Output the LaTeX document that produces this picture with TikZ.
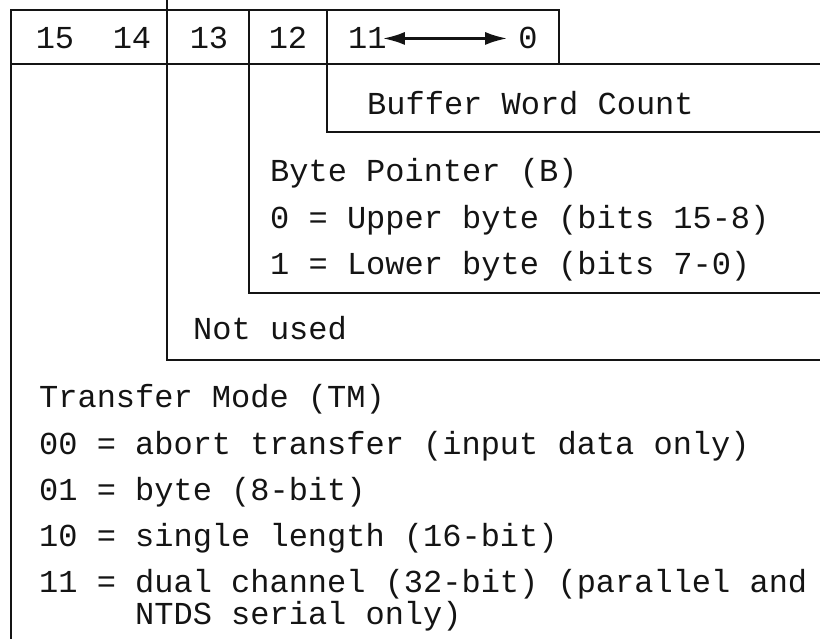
\documentclass[tikz,border=0pt]{standalone}
\usepackage{fontspec}
\setmonofont{Liberation Mono}
\usepackage{tikz}
\usetikzlibrary{arrows.meta}
\definecolor{ink}{HTML}{141414}
\newcommand{\regfont}{\ttfamily\fontsize{32}{38}\selectfont}
\tikzset{
    bitlabel/.style={
        anchor=base, inner sep=0pt, text=ink, font=\regfont
    },
    fieldtext/.style={
        anchor=base west, inner sep=0pt, text=ink, font=\regfont
    },
    regrule/.style={draw=ink, line width=2.2pt},
    bitspan/.style={{Latex[length=22pt,width=13pt]}-{Latex[length=22pt,width=13pt]}, draw=ink, line width=2.6pt},
}

\begin{document}
\begin{tikzpicture}[x=1pt, y=-1pt]
    \useasboundingbox (0,0) rectangle (820,639);
    % frame of the word
    \draw[regrule] (11,639) -- (11,10) -- (559,10) -- (559,64);
    \draw[regrule] (11,64) -- (820,64);
    \draw[regrule] (167,0) -- (167,360) -- (820,360);
    \draw[regrule] (249,10) -- (249,293) -- (820,293);
    \draw[regrule] (327,10) -- (327,132) -- (820,132);
    % bit numbers
    \node[bitlabel] (b15) at (55,49) {15};
    \node[bitlabel] (b14) at (132,49) {14};
    \node[bitlabel] (b13) at (209,49) {13};
    \node[bitlabel] (b12) at (288,49) {12};
    \node[fieldtext] (b11) at (348,49) {11};
    \node[bitlabel] (b0) at (528,49) {0};
    \draw[bitspan, shorten <=-4pt, shorten >=11pt] (b11.east) -- (b0.west);
    % fields
    \node[fieldtext] (bwc) at (367,115) {Buffer Word Count};
    \node[fieldtext] (bp) at (270,182) {Byte Pointer (B)};
    \node[fieldtext] (bpupper) at (270,229) {0 = Upper byte (bits 15-8)};
    \node[fieldtext] (bplower) at (270,275) {1 = Lower byte (bits 7-0)};
    \node[fieldtext] (unused) at (193,340) {Not used};
    \node[fieldtext] (tm) at (39,407) {Transfer Mode (TM)};
    \node[fieldtext] (tmabort) at (39,454) {00 = abort transfer (input data only)};
    \node[fieldtext] (tmbyte) at (39,500) {01 = byte (8-bit)};
    \node[fieldtext] (tmsingle) at (39,546) {10 = single length (16-bit)};
    \node[fieldtext] (tmdual) at (39,592) {11 = dual channel (32-bit) (parallel and};
    \node[fieldtext] (tmdualb) at (135,624) {NTDS serial only)};
\end{tikzpicture}
\end{document}
